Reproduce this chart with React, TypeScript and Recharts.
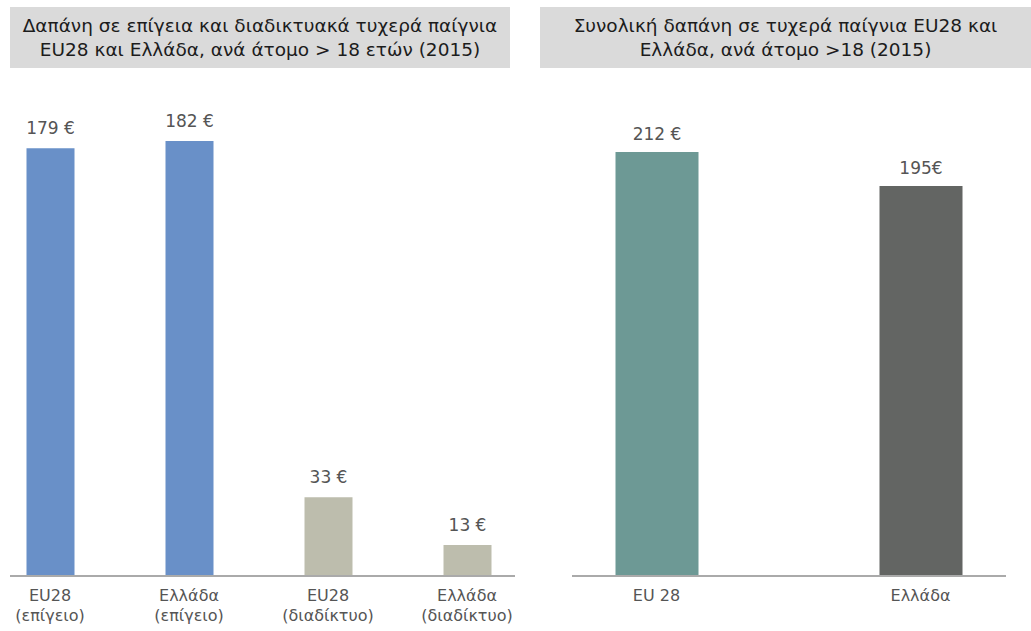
import React from "react";
import { Bar, BarChart, Cell, LabelList, XAxis, YAxis } from "recharts";

const leftTitle = [
  "Δαπάνη σε επίγεια και διαδικτυακά τυχερά παίγνια",
  "EU28 και Ελλάδα, ανά άτομο > 18 ετών (2015)",
];
const leftCategories = [
  "EU28\n(επίγειο)",
  "Ελλάδα\n(επίγειο)",
  "EU28\n(διαδίκτυο)",
  "Ελλάδα\n(διαδίκτυο)",
];
const leftValues = [179, 182, 33, 13];
const leftLabels = ["179 €", "182 €", "33 €", "13 €"];
const leftColors = ["#6990c8", "#6990c8", "#bdbdad", "#bdbdad"];

const rightTitle = [
  "Συνολική δαπάνη σε τυχερά παίγνια EU28 και",
  "Ελλάδα, ανά άτομο >18 (2015)",
];
const rightCategories = ["EU 28", "Ελλάδα"];
const rightValues = [212, 195];
const rightLabels = ["212 €", "195€"];
const rightColors = ["#6d9995", "#636563"];

const FONT = "'DejaVu Sans', sans-serif";
const TEXT = "#555";

function CategoryTick({ x, y, payload }: any) {
  const lines = String(payload.value).split("\n");
  return (
    <text x={x} y={y} textAnchor="middle" fill={TEXT} fontSize={16} fontFamily={FONT}>
      {lines.map((l, i) => (
        <tspan key={i} x={x} dy={i === 0 ? 17 : 20}>
          {l}
        </tspan>
      ))}
    </text>
  );
}

function TitleBox({ lines, left, width }: { lines: string[]; left: number; width: number }) {
  return (
    <div
      style={{
        position: "absolute",
        left,
        top: 7,
        width,
        height: 61,
        background: "#dadada",
        color: "#1c1c1c",
        fontFamily: FONT,
        fontSize: 18.5,
        lineHeight: "24px",
        textAlign: "center",
        paddingTop: 7,
        boxSizing: "border-box",
        whiteSpace: "nowrap",
      }}
    >
      {lines.map((l, i) => (
        <div key={i}>{l}</div>
      ))}
    </div>
  );
}

export default function App() {
  const leftData = leftCategories.map((c, i) => ({ name: c, value: leftValues[i], label: leftLabels[i] }));
  const rightData = rightCategories.map((c, i) => ({ name: c, value: rightValues[i], label: rightLabels[i] }));

  return (
    <div style={{ position: "absolute", left: 0, top: 0, width: 1031, height: 631, background: "#fff", overflow: "hidden" }}>
      <TitleBox lines={leftTitle} left={10} width={500} />
      <TitleBox lines={rightTitle} left={540} width={491} />

      <div style={{ position: "absolute", left: 0, top: 0 }}>
        <BarChart width={530} height={631} data={leftData} margin={{ top: 98, right: 15, left: 10, bottom: 5 }}>
          <XAxis
            dataKey="name"
            height={50}
            padding={{ left: -29.5, right: -21.5 }}
            axisLine={{ stroke: "#aaaaaa", strokeWidth: 2 }}
            tickLine={false}
            interval={0}
            tick={<CategoryTick />}
          />
          <YAxis hide domain={[0, 200]} />
          <Bar dataKey="value" barSize={48} isAnimationActive={false}>
            {leftData.map((d, i) => (
              <Cell key={d.name} fill={leftColors[i]} />
            ))}
            <LabelList dataKey="label" position="top" offset={14} fill={TEXT} fontSize={17} fontFamily={FONT} />
          </Bar>
        </BarChart>
      </div>

      <div style={{ position: "absolute", left: 530, top: 0 }}>
        <BarChart width={501} height={631} data={rightData} margin={{ top: 76, right: 25, left: 42, bottom: 5 }}>
          <XAxis
            dataKey="name"
            height={50}
            padding={{ left: -47.5, right: -46.5 }}
            axisLine={{ stroke: "#aaaaaa", strokeWidth: 2 }}
            tickLine={false}
            interval={0}
            tick={<CategoryTick />}
          />
          <YAxis hide domain={[0, 250]} />
          <Bar dataKey="value" barSize={83} isAnimationActive={false}>
            {rightData.map((d, i) => (
              <Cell key={d.name} fill={rightColors[i]} />
            ))}
            <LabelList dataKey="label" position="top" offset={12} fill={TEXT} fontSize={17} fontFamily={FONT} />
          </Bar>
        </BarChart>
      </div>
    </div>
  );
}
